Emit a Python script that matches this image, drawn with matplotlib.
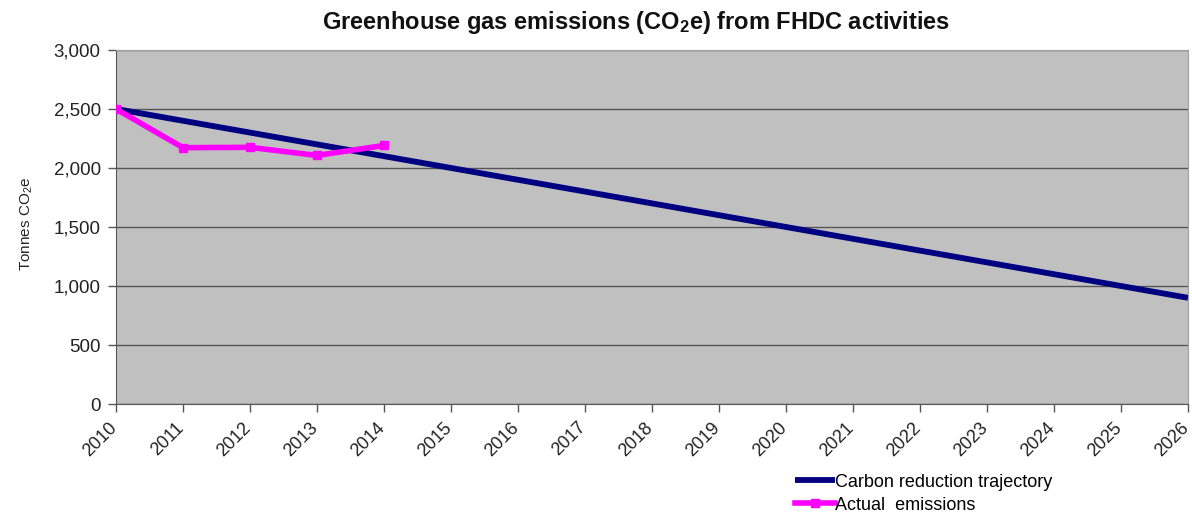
import matplotlib
matplotlib.use("Agg")
import matplotlib.pyplot as plt
import matplotlib.transforms as mtransforms
from matplotlib.ticker import FuncFormatter, MultipleLocator

plt.rcParams['font.family'] = ['Liberation Sans', 'DejaVu Sans']
plt.rcParams['mathtext.fontset'] = 'custom'
plt.rcParams['mathtext.rm'] = 'Liberation Sans'
plt.rcParams['mathtext.it'] = 'Liberation Sans'
plt.rcParams['mathtext.bf'] = 'Liberation Sans:bold'

years = list(range(2010, 2027))
trajectory = [2500, 2400, 2300, 2200, 2100, 2000, 1900, 1800, 1700,
              1600, 1500, 1400, 1300, 1200, 1100, 1000, 900]
actual_years = [2010, 2011, 2012, 2013, 2014]
actual = [2500, 2172, 2175, 2106, 2191]

fig = plt.figure(figsize=(11.92, 5.15), dpi=100)
ax = fig.add_axes([0.0973, 0.2155, 0.8993, 0.6875])
ax.set_facecolor('#C0C0C0')

ax.plot(years, trajectory, color='#000080', lw=4.2, solid_capstyle='butt',
        label='Carbon reduction trajectory', zorder=3)
ax.plot(actual_years, actual, color='#FF00FF', lw=4, marker='s', ms=6,
        label='Actual  emissions', zorder=4)

ax.set_xlim(2010, 2026)
ax.set_ylim(0, 3000)
ax.yaxis.set_major_locator(MultipleLocator(500))
ax.yaxis.set_major_formatter(FuncFormatter(lambda v, p: f"{int(v):,}"))
ax.set_xticks(years)
ax.set_xticklabels([])
# rotated year labels, nudged so their upper-right corner sits by the tick
shift = mtransforms.ScaledTranslation(-8 / 100, -15 / 100, fig.dpi_scale_trans)
for y in years:
    ax.text(y, 0, str(y), transform=ax.get_xaxis_transform() + shift,
            rotation=45, ha='right', va='top', rotation_mode='anchor',
            fontsize=13, color='#222222', clip_on=False)
for lbl in ax.get_yticklabels():
    lbl.set_fontsize(13.5)
    lbl.set_color('#222222')
ax.tick_params(axis='both', length=6, color='#555555', width=1)
ax.tick_params(axis='y', pad=5)

ax.grid(axis='y', color='#555555', lw=1)
ax.set_axisbelow(True)
for side in ['top', 'right']:
    ax.spines[side].set_color('#A0A0A0')
for side in ['left', 'bottom']:
    ax.spines[side].set_color('#555555')

ax.set_ylabel('Tonnes CO$_2$e', fontsize=11, color='#222222')
ax.yaxis.set_label_coords(-0.076, 0.51)
fig.text(0.534, 0.957,
         r'Greenhouse gas emissions (CO$_\mathbf{2}$e) from FHDC activities',
         ha='center', va='center', fontsize=17, fontweight='bold', color='#111111')

fig.legend(loc='upper left', bbox_to_anchor=(0.667, 0.080), frameon=False,
           fontsize=13, handlelength=2.2, handletextpad=0.0, labelspacing=0.32,
           borderaxespad=0, borderpad=0)

fig.savefig('out.png', dpi=100, facecolor='white')
